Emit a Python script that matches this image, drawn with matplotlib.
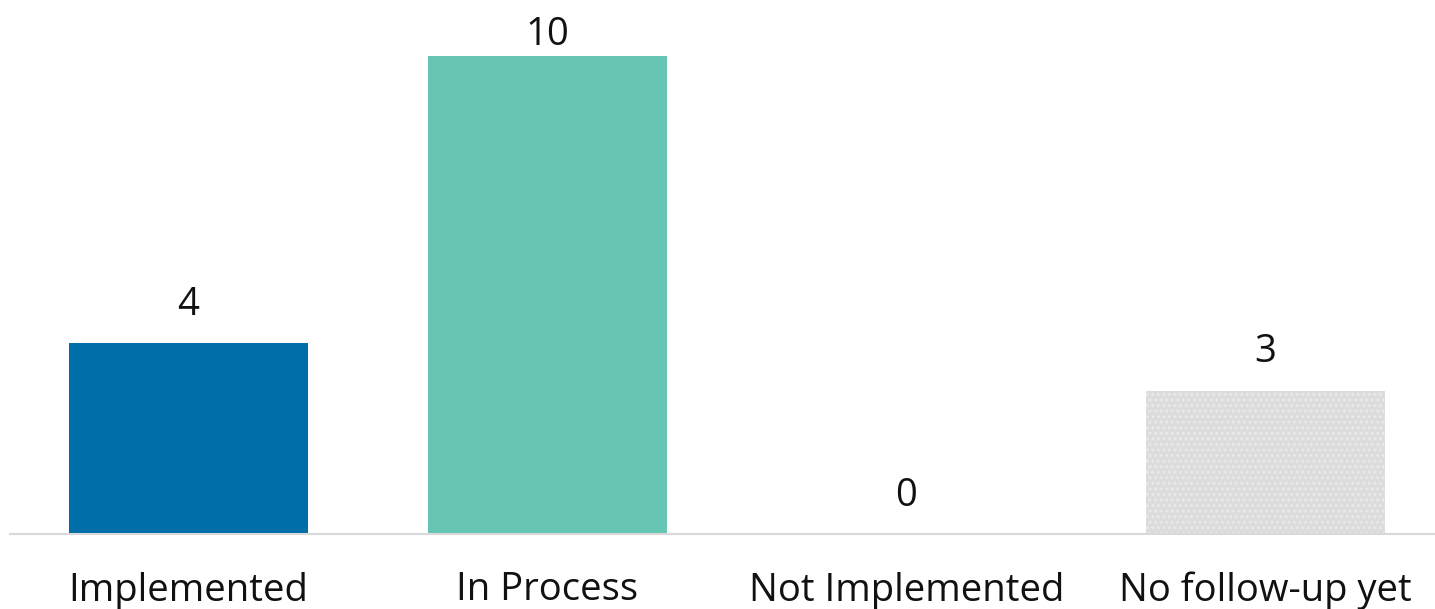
"""Bar chart of recommendation status counts."""

import matplotlib

matplotlib.use("Agg")
import matplotlib.pyplot as plt

plt.rcParams["font.family"] = ["Open Sans", "DejaVu Sans"]
plt.rcParams["hatch.linewidth"] = 1.2

STATUSES = ["Implemented", "In Process", "Not Implemented", "No follow-up yet"]
COUNTS = [4, 10, 0, 3]
COLORS = ["#006fa9", "#67c5b4", "#d9d9d9", "#dcdcdc"]

Y_TOP = 11.17


def main() -> None:
    fig = plt.figure(figsize=(14.35, 6.09), dpi=100)
    ax = fig.add_axes([10 / 1435, 75 / 609, 1425 / 1435, 534 / 609])

    positions = range(len(STATUSES))
    bars = ax.bar(positions, COUNTS, width=0.666, color=COLORS, linewidth=0)
    # dotted fill for the "no follow-up" bar
    bars[3].set_hatch("...")
    bars[3].set_edgecolor("#ebebeb")

    # value labels sit above each bar, squeezed down near the top edge
    for pos, value in zip(positions, COUNTS):
        label_y = min(value + 0.59, Y_TOP - 0.94)
        ax.text(pos, label_y, str(value), ha="center", va="baseline",
                fontsize=27.5, color="#111111")

    ax.set_xlim(-0.497, 3.472)
    ax.set_ylim(0, Y_TOP)
    ax.set_xticks(list(positions))
    ax.set_xticklabels(STATUSES, fontsize=27.5, color="#111111")
    ax.tick_params(axis="x", length=0, pad=27)
    ax.set_yticks([])
    for side in ["top", "right", "left"]:
        ax.spines[side].set_visible(False)
    ax.spines["bottom"].set_color("#d9d9d9")
    ax.spines["bottom"].set_linewidth(1.5)

    fig.savefig("out.png", dpi=100)
    plt.close(fig)


if __name__ == "__main__":
    main()
